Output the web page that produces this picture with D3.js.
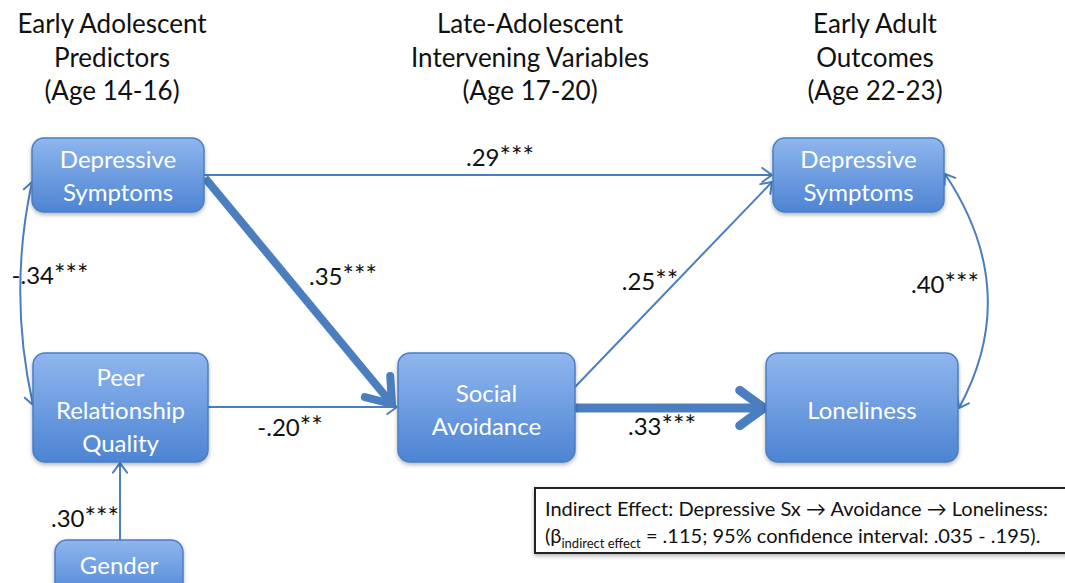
<!DOCTYPE html>
<html>
<head>
<meta charset="utf-8">
<script src="https://cdn.jsdelivr.net/npm/d3@7"></script>
<style>
  body { margin: 0; background: #fff; }
  svg { display: block; font-family: Lato, "Open Sans", sans-serif; }
</style>
</head>
<body>
<div id="app"></div>
<script>
// column headers
const headers = [
	['Early Adolescent', 'Predictors', '(Age 14-16)'],
	['Late-Adolescent', 'Intervening Variables', '(Age 17-20)'],
	['Early Adult', 'Outcomes', '(Age 22-23)'],
];
// boxes
const nodeIds = ['depT1', 'peer', 'gender', 'avoid', 'depT3', 'lonely'];
const nodeLabels = [
	['Depressive', 'Symptoms'],
	['Peer', 'Relationship', 'Quality'],
	['Gender'],
	['Social', 'Avoidance'],
	['Depressive', 'Symptoms'],
	['Loneliness'],
];
// paths: from, to, coefficient, stars
const pathFrom = ['depT1', 'depT1', 'peer', 'avoid', 'avoid', 'gender', 'depT1', 'depT3'];
const pathTo = ['depT3', 'avoid', 'avoid', 'depT3', 'lonely', 'peer', 'peer', 'lonely'];
const pathBeta = [0.29, 0.35, -0.20, 0.25, 0.33, 0.30, -0.34, 0.40];
const pathStars = ['***', '***', '**', '**', '***', '***', '***', '***'];
const pathKind = ['line', 'line', 'line', 'line', 'line', 'line', 'corrL', 'corrR'];
const indirectText = ['Indirect Effect: Depressive Sx \u2192 Avoidance \u2192 Loneliness:'];
const indirectBeta = 0.115;
const indirectCI = [0.035, 0.195];

// ---- layout (pixels) ----
const W = 1065, H = 583;
const svg = d3.select('#app').append('svg').attr('width', W).attr('height', H);

const defs = svg.append('defs');
const grad = defs.append('linearGradient').attr('id', 'boxGrad')
	.attr('x1', 0).attr('y1', 0).attr('x2', 0).attr('y2', 1);
grad.append('stop').attr('offset', '0%').attr('stop-color', '#8fb6ee');
grad.append('stop').attr('offset', '100%').attr('stop-color', '#4d84d3');
const shadow = defs.append('filter').attr('id', 'shadow').attr('x', '-10%').attr('y', '-10%').attr('width', '120%').attr('height', '130%');
shadow.append('feDropShadow').attr('dx', 0).attr('dy', 2).attr('stdDeviation', 2).attr('flood-color', '#000').attr('flood-opacity', 0.3);

const headerXs = [112, 530, 875];
headers.forEach((lines, i) => {
	const t = svg.append('text')
		.attr('text-anchor', 'middle')
		.attr('font-size', 26)
		.attr('fill', '#111');
	lines.forEach((s, j) => {
		t.append('tspan').attr('x', headerXs[i]).attr('y', 33 + j * 33.5).text(s);
	});
});

const boxLayout = {
	depT1: {x: 32, y: 138, w: 172, h: 74},
	peer: {x: 33, y: 353, w: 175, h: 109},
	gender: {x: 55, y: 540, w: 128, h: 60},
	avoid: {x: 398, y: 353, w: 177, h: 109},
	depT3: {x: 773, y: 138, w: 171, h: 74},
	lonely: {x: 766, y: 353, w: 192, h: 109},
};

const nodes = nodeIds.map((id, i) => Object.assign({id, label: nodeLabels[i]}, boxLayout[id]));

// ---- arrows ----
const arrowColor = '#4a7ebf';
const g = svg.append('g');

const head = (p, angle, len, sw) => {
	const a1 = angle + Math.PI * 0.8, a2 = angle - Math.PI * 0.8;
	g.append('path')
		.attr('d', `M${p[0] + len * Math.cos(a1)},${p[1] + len * Math.sin(a1)}L${p[0]},${p[1]}L${p[0] + len * Math.cos(a2)},${p[1] + len * Math.sin(a2)}`)
		.attr('fill', 'none')
		.attr('stroke', arrowColor)
		.attr('stroke-width', sw)
		.attr('stroke-linejoin', 'round')
		.attr('stroke-linecap', 'round');
};

const arrowGeom = {
	'depT1-depT3': {p0: [204, 175], p1: [772, 175], sw: 2, hl: 12, lx: 500, ly: 166},
	'depT1-avoid': {p0: [205, 178], p1: [392, 404], sw: 8, hl: 28, lx: 343, ly: 285},
	'peer-avoid': {p0: [208, 407], p1: [397, 407], sw: 2, hl: 12, lx: 290, ly: 436},
	'avoid-depT3': {p0: [575, 387], p1: [772, 182], sw: 2, hl: 12, lx: 650, ly: 290},
	'avoid-lonely': {p0: [575, 408], p1: [764, 408], sw: 9, hl: 30, lx: 662, ly: 435},
	'gender-peer': {p0: [120, 540], p1: [120, 463], sw: 2, hl: 12, lx: 85, ly: 527},
	'depT1-peer': {p0: [32, 182], p1: [33, 405], c: [8, 293], sw: 2, hl: 11, lx: 50, ly: 284},
	'depT3-lonely': {p0: [945, 174], p1: [959, 408], c: [1023, 291], sw: 2, hl: 11, lx: 945, ly: 293},
};

const fmt = (v) => d3.format('.2f')(v).replace('\u2212', '-').replace('0.', '.');

pathFrom.forEach((from, i) => {
	const geo = arrowGeom[`${from}-${pathTo[i]}`];
	if (pathKind[i] === 'line') {
		const ang = Math.atan2(geo.p1[1] - geo.p0[1], geo.p1[0] - geo.p0[0]);
		const back = geo.sw > 3 ? geo.sw * 0.6 : 0;
		g.append('line')
			.attr('x1', geo.p0[0]).attr('y1', geo.p0[1])
			.attr('x2', geo.p1[0] - back * Math.cos(ang)).attr('y2', geo.p1[1] - back * Math.sin(ang))
			.attr('stroke', arrowColor)
			.attr('stroke-width', geo.sw);
		head(geo.p1, ang, geo.hl, geo.sw);
	} else {
		const path = d3.path();
		path.moveTo(geo.p0[0], geo.p0[1]);
		path.quadraticCurveTo(geo.c[0], geo.c[1], geo.p1[0], geo.p1[1]);
		g.append('path')
			.attr('d', path.toString())
			.attr('fill', 'none')
			.attr('stroke', arrowColor)
			.attr('stroke-width', geo.sw);
		head(geo.p0, Math.atan2(geo.p0[1] - geo.c[1], geo.p0[0] - geo.c[0]), geo.hl, geo.sw);
		head(geo.p1, Math.atan2(geo.p1[1] - geo.c[1], geo.p1[0] - geo.c[0]), geo.hl, geo.sw);
	}
	const lab = svg.append('text')
		.attr('x', geo.lx).attr('y', geo.ly)
		.attr('text-anchor', 'middle')
		.attr('font-size', 24)
		.attr('fill', '#111');
	lab.append('tspan').text(fmt(pathBeta[i]));
	lab.append('tspan').attr('font-size', 27).text(pathStars[i]);
});

// ---- boxes ----
const box = svg.selectAll('g.box')
	.data(nodes)
	.enter()
	.append('g')
	.attr('class', 'box')
	.attr('transform', (d) => `translate(${d.x},${d.y})`);

box.append('rect')
	.attr('width', (d) => d.w)
	.attr('height', (d) => d.h)
	.attr('rx', 12)
	.attr('fill', 'url(#boxGrad)')
	.attr('stroke', '#4a7dc4')
	.attr('stroke-width', 1.5)
	.attr('filter', 'url(#shadow)');

box.append('text')
	.attr('text-anchor', 'middle')
	.attr('fill', '#fff')
	.attr('font-size', 24)
	.each(function (d) {
		const t = d3.select(this);
		const lh = 33;
		const n = d.label.length;
		const cy = d.id === 'gender' ? 25 : d.h / 2;
		const off = d.h > 100 ? 11 : 9;
		d.label.forEach((s, j) => {
			t.append('tspan')
				.attr('x', d.w / 2)
				.attr('y', cy + (j - (n - 1) / 2) * lh + off)
				.text(s);
		});
	});

// ---- indirect effect box ----
const ib = svg.append('g').attr('transform', 'translate(535,488)');
ib.append('rect')
	.attr('width', 540).attr('height', 65)
	.attr('fill', '#fff').attr('stroke', '#222').attr('stroke-width', 2)
	.attr('filter', 'url(#shadow)');
ib.append('text')
	.attr('x', 10).attr('y', 28)
	.attr('font-size', 20).attr('fill', '#111')
	.text(indirectText[0]);
const f3 = (v) => d3.format('.3f')(v).replace('0.', '.');
const t2 = ib.append('text')
	.attr('x', 10).attr('y', 55)
	.attr('font-size', 20).attr('fill', '#111');
t2.append('tspan').text('(\u03b2');
t2.append('tspan').attr('font-size', 13).attr('dy', 5).text('indirect effect');
t2.append('tspan').attr('dy', -5)
	.text(` = ${f3(indirectBeta)}; 95% confidence interval: ${f3(indirectCI[0])} - ${f3(indirectCI[1])}).`);
</script>
</body>
</html>
